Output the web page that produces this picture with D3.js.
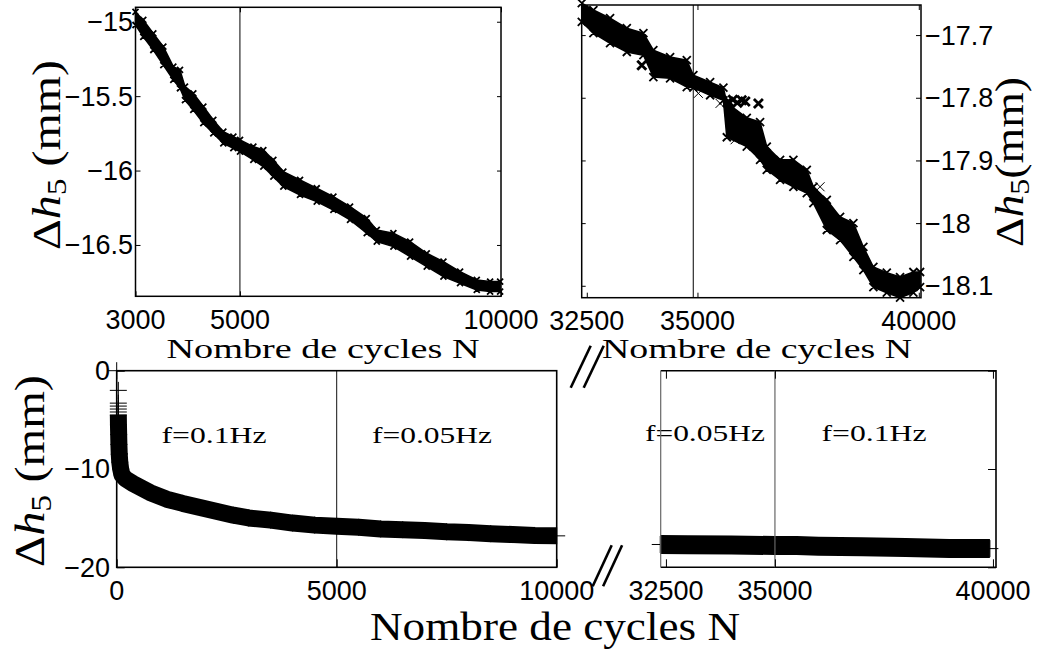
<!DOCTYPE html>
<html><head><meta charset="utf-8">
<script src="https://cdn.jsdelivr.net/npm/d3@7"></script>
<style>body{margin:0;background:#fff}svg{display:block}</style>
</head><body>
<svg id="chart" width="1042" height="651"></svg>
<script>
// ---------------- DATA ----------------
const tlCycles = [3000,3149,3341,3533,3724,3852,3948,4107,4299,4490,4682,4874,5002,5257,5448,5640,5831,6151,6471,6790,7109,7429,7621,7939,8259,8578,8897,9216,9536,9791,9983];
const tlUpper  = [-14.934,-14.988,-15.078,-15.168,-15.302,-15.324,-15.436,-15.481,-15.570,-15.660,-15.739,-15.772,-15.794,-15.839,-15.862,-15.929,-16.007,-16.063,-16.119,-16.175,-16.242,-16.320,-16.399,-16.421,-16.478,-16.556,-16.612,-16.679,-16.735,-16.746,-16.746];
const tlLower  = [-15.022,-15.101,-15.190,-15.291,-15.391,-15.447,-15.526,-15.593,-15.682,-15.750,-15.817,-15.850,-15.873,-15.929,-15.974,-16.041,-16.108,-16.164,-16.209,-16.265,-16.332,-16.421,-16.478,-16.511,-16.578,-16.645,-16.713,-16.757,-16.802,-16.813,-16.813];
const trCycles = [32387,32649,33026,33404,33779,34004,34382,34759,34908,35286,35586,35663,36114,36415,36566,36867,37167,37470,37619,37922,38222,38523,38748,38974,39277,39577,39878,40029];
const trUpper  = [-17.649,-17.660,-17.673,-17.689,-17.697,-17.724,-17.735,-17.740,-17.764,-17.775,-17.784,-17.808,-17.832,-17.839,-17.878,-17.899,-17.899,-17.915,-17.942,-17.963,-17.990,-18.000,-18.038,-18.070,-18.079,-18.086,-18.078,-18.078];
const trLower  = [-17.679,-17.697,-17.713,-17.727,-17.732,-17.767,-17.769,-17.783,-17.784,-17.796,-17.804,-17.863,-17.878,-17.899,-17.915,-17.931,-17.942,-17.952,-17.968,-18.011,-18.027,-18.054,-18.075,-18.102,-18.111,-18.119,-18.111,-18.102];
const trBoldCycles = [33742,35700,35800,35900,36000,36080,36377];
const trBoldValues = [-17.748,-17.806,-17.803,-17.808,-17.804,-17.806,-17.809];
const trThinCycles = [35021,35511,35850,37770];
const trThinValues = [-17.793,-17.809,-17.867,-17.942];
const blEarlyCycles = [0,37,37,37,37,37];
const blEarlyValues = [0,-2.0,-3.3,-3.6,-3.9,-4.2];
const blCycles = [37,40,45,50,58,70,90,120,200,378,757,1136,1500,1893,2650,3000,3500,4000,4500,5000,5500,6000,6500,7000,7500,8000,8500,9000,9500,10000];
const blValues = [-4.5,-5.5,-6.5,-7.5,-8.5,-9.3,-10.0,-10.6,-11.0,-11.5,-12.4,-13.07,-13.5,-13.92,-14.7,-14.98,-15.2,-15.5,-15.71,-15.83,-15.93,-16.1,-16.17,-16.26,-16.39,-16.47,-16.58,-16.67,-16.76,-16.8];
const brCycles = [32370,33000,34000,35000,35500,36000,37000,38000,39000,39930];
const brValues = [-17.68,-17.70,-17.74,-17.78,-17.79,-17.85,-17.92,-17.99,-18.08,-18.10];
const tlXTicks = [3000,5000,10000];
const tlYTicks = [-15,-15.5,-16,-16.5];
const trXTicks = [32500,35000,40000];
const trYTicks = [-17.7,-17.8,-17.9,-18,-18.1];
const blXTicks = [0,5000,10000];
const brXTicks = [32500,35000,40000];
const bYTicks  = [0,-10,-20];
const tlBounds = [5000];
const trBounds = [34905];
const blBounds = [5000];
const brBounds = [32380,35000];
const blFreqText = ["f=0.1Hz","f=0.05Hz"];
const blFreqCycles = [2211,7166];
const brFreqText = ["f=0.05Hz","f=0.1Hz"];
const brFreqCycles = [33394,37273];

// ---------------- DRAW ----------------
const svg = d3.select('#chart');
const SANS = "'Liberation Sans', Arial, sans-serif";
const SERIF = "'Liberation Serif', 'Times New Roman', serif";
const TFS = 27;
const fmt = d => (d < 0 ? '\u2212' : '') + Math.abs(d);
const xPath = (cx, cy, s) => `M${cx-s},${cy-s}L${cx+s},${cy+s}M${cx-s},${cy+s}L${cx+s},${cy-s}`;
const plusPath = (cx, cy, s) => `M${cx-s},${cy}L${cx+s},${cy}M${cx},${cy-s}L${cx},${cy+s}`;
const adv = ch => ch === '\u2212' ? 0.584 : ch === '.' ? 0.278 : 0.556;

function ticksOnly(sel) {
  sel.select('.domain').remove();
  sel.selectAll('text').remove();
  sel.selectAll('line').attr('stroke', '#000').attr('stroke-width', 1);
}
function tickLabels(g, vals, px, py, anchor, baselineDy) {
  g.selectAll(null).data(vals).join('text')
    .attr('x', px).attr('y', py)
    .attr('dy', baselineDy)
    .attr('text-anchor', anchor)
    .attr('font-family', SANS).attr('font-size', TFS)
    .attr('fill', '#000')
    .attr('textLength', d => Array.from(fmt(d)).reduce((a, c) => a + adv(c), 0) * TFS)
    .attr('lengthAdjust', 'spacingAndGlyphs')
    .text(d => fmt(d));
}

function box(g, x0, x1, y0, y1, sw) {
  g.append('rect').attr('x', x0).attr('y', y0).attr('width', x1 - x0).attr('height', y1 - y0)
    .attr('fill', 'none').attr('stroke', '#000').attr('stroke-width', sw);
}
function ylabel(x, y, fs, len, gap) {
  const t = svg.append('text').attr('transform', `translate(${x},${y}) rotate(-90)`)
    .attr('text-anchor', 'middle').attr('font-family', SERIF).attr('font-size', fs).attr('fill', '#000');
  t.append('tspan').text('\u0394');
  t.append('tspan').attr('font-style', 'italic').text('h');
  t.append('tspan').attr('font-size', fs * 0.7).attr('dy', fs * 0.16).text('5');
  t.append('tspan').attr('dy', -fs * 0.16).text(gap ? '\u00a0(mm)' : '(mm)');
  t.attr('textLength', len).attr('lengthAdjust', 'spacingAndGlyphs');
}
function xlabel(cx, y, fs, len) {
  svg.append('text').attr('x', cx).attr('y', y).attr('text-anchor', 'middle')
    .attr('font-family', SERIF).attr('font-size', fs).attr('fill', '#000')
    .attr('textLength', len).attr('lengthAdjust', 'spacingAndGlyphs')
    .text('Nombre de cycles N');
}

// ---- Top-left panel ----
{
  const L = 135.5, R = 501, T = 7.3, B = 296.3;
  const x = d3.scaleLinear().domain([3000, 10000]).range([L, R]);
  const y = d3.scaleLinear().domain([-16.845, -14.903]).range([B, T]);
  const g = svg.append('g');
  const pts = tlCycles.map((c, i) => ({c, hi: tlUpper[i], lo: tlLower[i]}));
  g.selectAll('line.b').data(tlBounds).join('line').attr('x1', d => x(d)).attr('x2', d => x(d))
    .attr('y1', T).attr('y2', B).attr('stroke', '#000').attr('stroke-width', 1);
  g.append('path').datum(pts).attr('fill', '#000').attr('stroke', '#000').attr('stroke-width', 1.5)
    .attr('d', d3.area().x(d => x(d.c)).y0(d => y(d.lo)).y1(d => y(d.hi)));
  g.append('path').attr('fill', 'none').attr('stroke', '#000').attr('stroke-width', 1.8)
    .attr('d', pts.map(d => xPath(x(d.c), y(d.hi), 3) + xPath(x(d.c), y(d.lo), 3)).join(''));
  box(g, L, R, T, B, 1.5);
  g.append('g').attr('transform', `translate(0,${B})`).call(d3.axisBottom(x).tickValues(tlXTicks).tickSize(-5)).call(ticksOnly);
  g.append('g').attr('transform', `translate(0,${T})`).call(d3.axisTop(x).tickValues(tlXTicks).tickSize(-5)).call(ticksOnly);
  g.append('g').attr('transform', `translate(${L},0)`).call(d3.axisLeft(y).tickValues(tlYTicks).tickSize(-5)).call(ticksOnly);
  g.append('g').attr('transform', `translate(${R},0)`).call(d3.axisRight(y).tickValues(tlYTicks).tickSize(-4)).call(ticksOnly);
  tickLabels(g, tlXTicks, d => x(d), B + 33, 'middle', 0);
  tickLabels(g, tlYTicks, L - 2.5, d => y(d), 'end', '0.35em');
}

// ---- Top-right panel ----
{
  const L = 581.7, R = 921, T = 5, B = 297.7;
  const x = d3.scaleLinear().domain([32385, 40050]).range([L, R]);
  const y = d3.scaleLinear().domain([-18.119, -17.652]).range([B, T]);
  const g = svg.append('g');
  const pts = trCycles.map((c, i) => ({c, hi: trUpper[i], lo: trLower[i]}));
  g.selectAll('line.b').data(trBounds).join('line').attr('x1', d => x(d)).attr('x2', d => x(d))
    .attr('y1', T).attr('y2', B).attr('stroke', '#000').attr('stroke-width', 1);
  g.append('path').datum(pts).attr('fill', '#000').attr('stroke', '#000').attr('stroke-width', 1.5)
    .attr('d', d3.area().x(d => x(d.c)).y0(d => y(d.lo)).y1(d => y(d.hi)));
  g.append('path').attr('fill', 'none').attr('stroke', '#000').attr('stroke-width', 1.8)
    .attr('d', pts.map(d => xPath(x(d.c), y(d.hi), 4) + xPath(x(d.c), y(d.lo), 4)).join(''));
  g.append('path').attr('fill', 'none').attr('stroke', '#000').attr('stroke-width', 2.8)
    .attr('d', trBoldCycles.map((c, i) => xPath(x(c), y(trBoldValues[i]), 4.5)).join(''));
  g.append('path').attr('fill', 'none').attr('stroke', '#000').attr('stroke-width', 1)
    .attr('d', trThinCycles.map((c, i) => xPath(x(c), y(trThinValues[i]), 4.5)).join(''));
  box(g, L, R, T, B, 1.5);
  g.append('g').attr('transform', `translate(0,${B})`).call(d3.axisBottom(x).tickValues(trXTicks).tickSize(-5)).call(ticksOnly);
  g.append('g').attr('transform', `translate(0,${T})`).call(d3.axisTop(x).tickValues(trXTicks).tickSize(-5)).call(ticksOnly);
  g.append('g').attr('transform', `translate(${R},0)`).call(d3.axisRight(y).tickValues(trYTicks).tickSize(-5)).call(ticksOnly);
  g.append('g').attr('transform', `translate(${L},0)`).call(d3.axisLeft(y).tickValues(trYTicks).tickSize(-4)).call(ticksOnly);
  tickLabels(g, trXTicks, d => x(d), B + 32, 'middle', 0);
  tickLabels(g, trYTicks, R + 4, d => y(d), 'start', '0.35em');
}

// ---- Bottom panels ----
const BT = 370.7, BB = 567.3;
const yB = d3.scaleLinear().domain([-20, 0]).range([BB, BT]);
{
  const L = 116.7, R = 556.7;
  const x = d3.scaleLinear().domain([0, 10000]).range([L, R]);
  const g = svg.append('g');
  g.selectAll('line.b').data(blBounds).join('line').attr('x1', d => x(d)).attr('x2', d => x(d))
    .attr('y1', BT).attr('y2', BB).attr('stroke', '#111').attr('stroke-width', 1);
  g.selectAll('text.f').data(blFreqText).join('text').attr('x', (d, i) => x(blFreqCycles[i])).attr('y', 443)
    .attr('text-anchor', 'middle').attr('font-family', SERIF).attr('font-size', 24)
    .attr('textLength', d => d.length === 7 ? 105 : 120).attr('lengthAdjust', 'spacingAndGlyphs').text(d => d);
  g.append('path').datum(blCycles.map((c, i) => [x(c), yB(blValues[i])]))
    .attr('fill', 'none').attr('stroke', '#000').attr('stroke-width', 17).attr('stroke-linejoin', 'round')
    .attr('d', d3.line());
  g.append('path').attr('fill', 'none').attr('stroke', '#000').attr('stroke-width', 1)
    .attr('d', blEarlyCycles.map((c, i) => plusPath(x(c), yB(blEarlyValues[i]), 8.5)).join('') +
               blCycles.map((c, i) => plusPath(x(c), yB(blValues[i]), 8.5)).join(''));
  box(g, L, R, BT, BB, 1.6);
  g.append('g').attr('transform', `translate(0,${BB})`).call(d3.axisBottom(x).tickValues(blXTicks).tickSize(-8)).call(ticksOnly);
  g.append('g').attr('transform', `translate(${L},0)`).call(d3.axisLeft(yB).tickValues(bYTicks).tickSize(-8)).call(ticksOnly);
  tickLabels(g, blXTicks, d => x(d), BB + 33, 'middle', 0);
  tickLabels(g, bYTicks, L - 6.7, d => yB(d), 'end', '0.35em');
}
{
  const L = 660.7, R = 996;
  const x = d3.scaleLinear().domain([32380, 40070]).range([L, R]);
  const g = svg.append('g');
  g.selectAll('text.f').data(brFreqText).join('text').attr('x', (d, i) => x(brFreqCycles[i])).attr('y', 441)
    .attr('text-anchor', 'middle').attr('font-family', SERIF).attr('font-size', 24)
    .attr('textLength', d => d.length === 7 ? 105 : 120).attr('lengthAdjust', 'spacingAndGlyphs').text(d => d);
  g.append('path').datum(brCycles.map((c, i) => [x(c), yB(brValues[i])]))
    .attr('fill', 'none').attr('stroke', '#000').attr('stroke-width', 19).attr('stroke-linejoin', 'round')
    .attr('d', d3.line());
  g.append('path').attr('fill', 'none').attr('stroke', '#000').attr('stroke-width', 1)
    .attr('d', brCycles.map((c, i) => plusPath(x(c), yB(brValues[i]), 8.5)).join(''));
  g.append('path').attr('fill', 'none').attr('stroke', '#000').attr('stroke-width', 1.6)
    .attr('d', `M${L},${BT}H${R}V${BB}H${L}`);
  g.selectAll('line.b').data(brBounds).join('line').attr('x1', d => x(d)).attr('x2', d => x(d))
    .attr('y1', BT).attr('y2', BB).attr('stroke', '#666').attr('stroke-width', 1.2);
  g.append('g').attr('transform', `translate(0,${BB})`).call(d3.axisBottom(x).tickValues(brXTicks).tickSize(-8)).call(ticksOnly);
  g.append('g').attr('transform', `translate(0,${BT})`).call(d3.axisTop(x).tickValues(brXTicks).tickSize(-8)).call(ticksOnly);
  g.append('g').attr('transform', `translate(${R},0)`).call(d3.axisRight(yB).tickValues(bYTicks).tickSize(-8)).call(ticksOnly);
  tickLabels(g, brXTicks, d => x(d), BB + 33, 'middle', 0);

  const bx = x.range()[0];
  const marks = svg.append('g').attr('stroke', '#000').attr('stroke-width', 2.6).attr('fill', 'none');
  [0, 13].forEach(o => {
    marks.append('line').attr('x1', bx - 90 + o).attr('y1', BT + 17).attr('x2', bx - 70 + o).attr('y2', BT - 25);
    marks.append('line').attr('x1', bx - 68 + o * 0.8).attr('y1', BB + 19).attr('x2', bx - 49 + o * 0.8).attr('y2', BB - 22);
  });
}

// ---- axis labels ----
ylabel(60, 155, 40, 190, true);
ylabel(1023, 162, 40, 170, false);
ylabel(44, 471, 42, 192, true);
xlabel(323, 358, 28, 313);
xlabel(757, 358, 28, 310);
xlabel(555, 640, 40, 370);
</script>
</body></html>
